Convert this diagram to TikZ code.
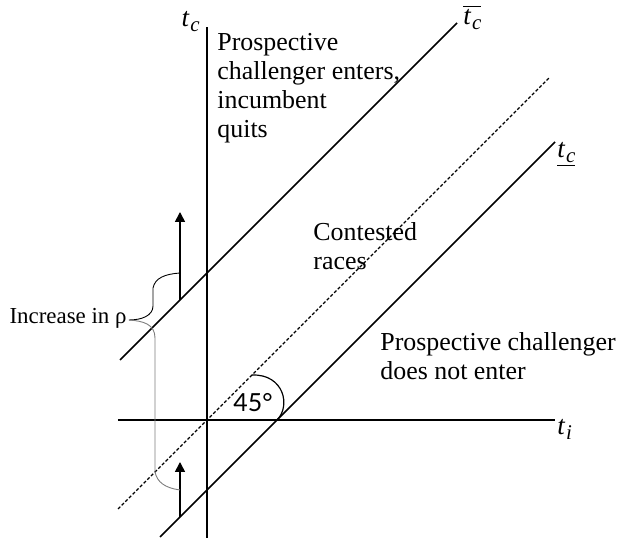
\documentclass[tikz,border=0pt]{standalone}
\usepackage{fontspec}
\setmainfont{Liberation Serif}
\newfontfamily\anglefont{Lato}
\usetikzlibrary{arrows.meta,positioning}
\definecolor{bracegray}{RGB}{125,125,125}
\newcommand{\tvar}[1]{\textit{t}\kern0.3pt\raisebox{-0.4ex}{\fontsize{10.5}{11}\selectfont\textit{#1}}}

\begin{document}
\begin{tikzpicture}[
    x=0.5bp, y=0.5bp,
    axis/.style={line width=0.8pt},
    bound/.style={line width=0.8pt},
    mid/.style={line width=0.6pt, dash pattern=on 1.6pt off 1pt},
    rise/.style={-{Triangle[length=5bp,width=5bp]}, line width=0.8pt},
    region/.style={align=left, inner sep=0pt, font=\fontsize{13}{14.5}\selectfont},
    var/.style={inner sep=0pt, font=\fontsize{13.5}{14.5}\selectfont},
    brace/.style={line width=0.45pt}
]
\useasboundingbox (-207,-118) rectangle (414,420);

% axes
\coordinate (o) at (0,0);
\coordinate (vtop) at (0,393);
\coordinate (vbot) at (0,-118);
\coordinate (hleft) at (-89,0);
\coordinate (hright) at (348,0);
\draw[axis] (vbot) -- (vtop);
\draw[axis] (hleft) -- (hright);
\node[var, anchor=east] (tcaxis) at (-7,398) {\tvar{c}};
\node[var, anchor=west] (tiaxis) at (350,-9) {\tvar{i}};

% the three 45 degree lines
\coordinate (hi1) at (-87,60);
\coordinate (hi2) at (250,397);
\coordinate (md1) at (-89,-89);
\coordinate (md2) at (343,343);
\coordinate (lo1) at (-47,-117);
\coordinate (lo2) at (348,278);
\draw[bound] (hi1) -- (hi2);
\draw[mid] (md1) -- (md2);
\draw[bound] (lo1) -- (lo2);
\node[var, anchor=south west] (tbar) at (256,390) {$\overline{\mbox{\tvar{c}}}$};
\node[var, anchor=south west] (tlow) at (350,253) {\underline{\tvar{c}}};

% angle mark
\coordinate (cross) at (70,0);
\coordinate (onmid) at (45,45);
\draw[line width=0.6pt] (cross) .. controls (84,14) and (77,46) .. (onmid);
\node[inner sep=0pt, font=\anglefont\fontsize{12.5}{13}\selectfont] (deg) at (46,17) {45°};

% regions
\node[region, anchor=north west] (enters) at (10,387) {Prospective\\challenger enters,\\incumbent\\quits};
\node[region, anchor=north west] (contest) at (106,198) {Contested\\races};
\node[region, anchor=north west] (noenter) at (173,88) {Prospective challenger\\does not enter};

% shift of the bounds
\coordinate (ua) at (-27,120);
\coordinate (ub) at (-27,208);
\coordinate (la) at (-27,-97);
\coordinate (lb) at (-27,-42);
\draw[rise] (ua) -- (ub);
\draw[rise] (la) -- (lb);

% brace
\node[inner sep=0pt, anchor=base east, font=\fontsize{11.5}{12}\selectfont] (incr) at (-80,96) {Increase in ρ};
\coordinate (tip) at (-78,100);
\coordinate (topend) at (-27,147);
\coordinate (botend) at (-27,-70);
\draw[brace] (tip) .. controls (-66,100) and (-54,104) .. (-54,114)
    -- (-54,132) .. controls (-52,142) and (-42,146) .. (topend);
\draw[brace, draw=bracegray] (tip) .. controls (-64,99) and (-52,96) .. (-52,82)
    -- (-52,-52) .. controls (-50,-62) and (-42,-68) .. (botend);

\end{tikzpicture}
\end{document}
